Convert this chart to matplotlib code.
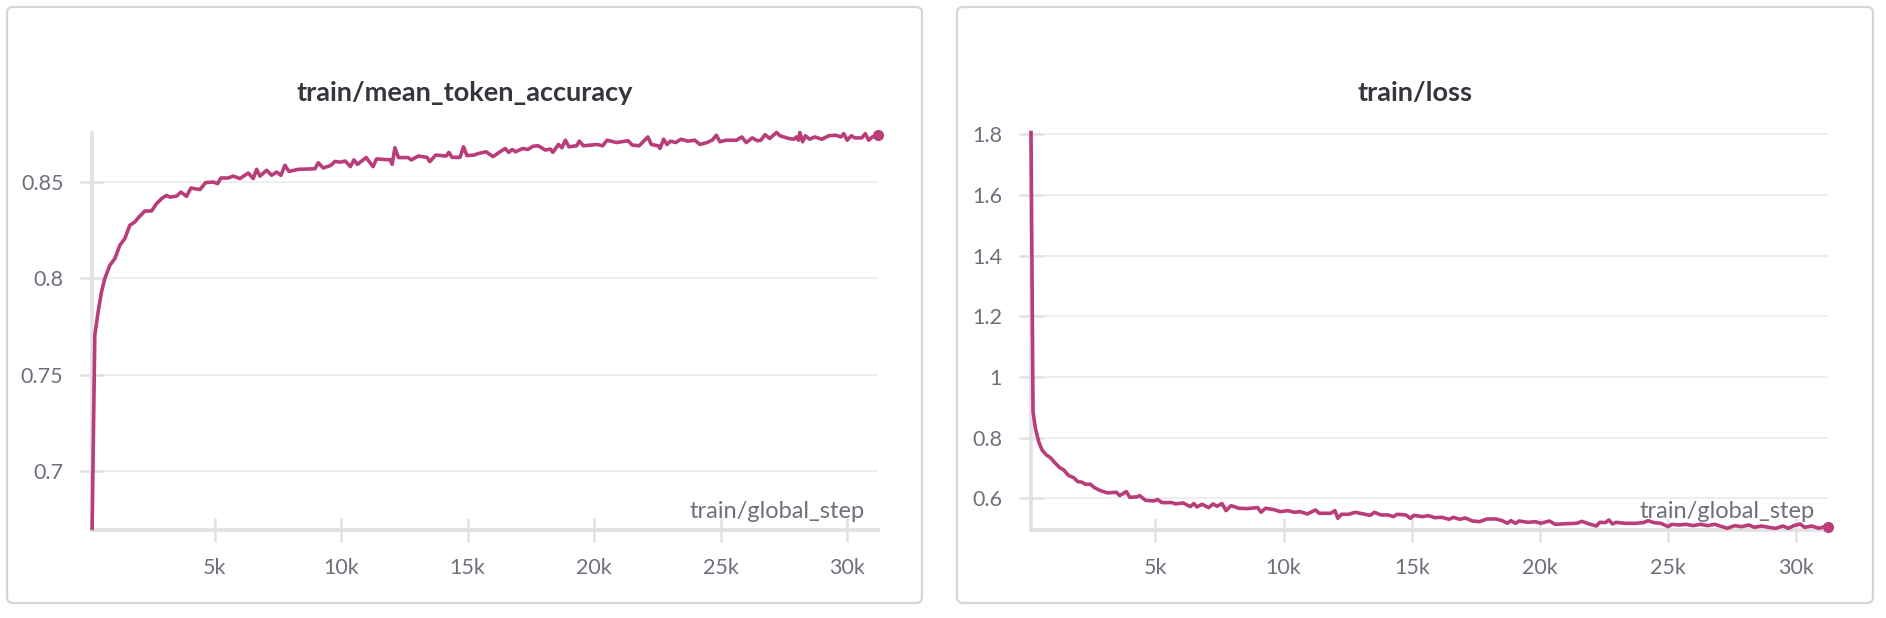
import matplotlib
matplotlib.use('Agg')
import matplotlib.pyplot as plt
from matplotlib.patches import FancyBboxPatch
from matplotlib.transforms import IdentityTransform

plt.rcParams['font.family'] = ['Lato', 'DejaVu Sans']

# train/mean_token_accuracy
acc_step = [143, 249, 380, 514, 645, 843, 1041, 1239, 1437, 1635,
            1833, 1963, 2229, 2494, 2692, 2890, 3088, 3218, 3484, 3654,
            3880, 4050, 4406, 4632, 4933, 5107, 5237, 5527, 5725, 5990,
            6318, 6516, 6651, 6782, 7046, 7244, 7442, 7612, 7771, 7929,
            8297, 8958, 9089, 9287, 9592, 9750, 9949, 10155, 10360, 10500,
            10637, 10982, 11255, 11394, 11944, 12011, 12122, 12261, 12633, 12771,
            13044, 13389, 13500, 13733, 14145, 14256, 14378, 14695, 14834, 14972,
            15245, 15451, 15728, 16001, 16278, 16484, 16622, 16761, 16895, 17173,
            17379, 17585, 17790, 18067, 18273, 18368, 18590, 18729, 18863, 19002,
            19307, 19414, 19580, 20130, 20336, 20514, 20886, 21342, 21508, 21781,
            22125, 22264, 22537, 22608, 22747, 22882, 23020, 23226, 23432, 23709,
            23982, 24188, 24465, 24671, 24837, 24976, 25221, 25633, 25843, 26021,
            26254, 26460, 26599, 26761, 26943, 27216, 27355, 27699, 27905, 28000,
            28083, 28139, 28250, 28361, 28523, 28729, 29006, 29283, 29556, 29762,
            29873, 30011, 30174, 30313, 30590, 30728, 30863, 31001, 31230]
acc_val = [0.6704, 0.7706, 0.7826, 0.793, 0.800, 0.8068, 0.8103, 0.8172, 0.8207, 0.8276,
           0.8293, 0.8314, 0.835, 0.835, 0.8388, 0.8414, 0.8431, 0.8422, 0.8427, 0.8448,
           0.8426, 0.8469, 0.8461, 0.8497, 0.850, 0.8492, 0.8521, 0.8521, 0.8531, 0.8518,
           0.8547, 0.8518, 0.8566, 0.8531, 0.8561, 0.8535, 0.8552, 0.8535, 0.8587, 0.8555,
           0.8566, 0.8569, 0.860, 0.8573, 0.8587, 0.8607, 0.8603, 0.8609, 0.858, 0.8615,
           0.8592, 0.8627, 0.858, 0.862, 0.8615, 0.8592, 0.8678, 0.8627, 0.8627, 0.8615,
           0.8635, 0.8628, 0.8606, 0.864, 0.8635, 0.8654, 0.8628, 0.8628, 0.8683, 0.8637,
           0.864, 0.8649, 0.8657, 0.8632, 0.8657, 0.8674, 0.8654, 0.8669, 0.8657, 0.8674,
           0.8669, 0.8686, 0.8688, 0.8666, 0.8671, 0.8654, 0.8695, 0.8678, 0.8717, 0.8683,
           0.8688, 0.8712, 0.8688, 0.8695, 0.8688, 0.8717, 0.8705, 0.8714, 0.8692, 0.8688,
           0.8734, 0.8695, 0.8688, 0.8674, 0.8722, 0.8695, 0.8712, 0.8705, 0.8722, 0.8712,
           0.8717, 0.8695, 0.8705, 0.8717, 0.8743, 0.8709, 0.8717, 0.8717, 0.8734, 0.8705,
           0.8729, 0.8714, 0.8717, 0.8746, 0.8726, 0.8757, 0.874, 0.8726, 0.8722, 0.8734,
           0.8717, 0.8757, 0.8709, 0.874, 0.8722, 0.8734, 0.8722, 0.874, 0.8743, 0.8734,
           0.8751, 0.8717, 0.874, 0.8729, 0.8729, 0.8751, 0.8717, 0.8734, 0.8743]

# train/loss
loss_step = [150, 229, 320, 450, 580, 749, 905, 1100, 1269, 1425,
             1620, 1815, 1971, 2140, 2270, 2465, 2621, 2855, 3141, 3310,
             3479, 3609, 3869, 3999, 4285, 4389, 4610, 4935, 5091, 5260,
             5650, 5780, 6079, 6365, 6495, 6625, 6820, 7080, 7249, 7405,
             7600, 7756, 7951, 8250, 8575, 8991, 9121, 9290, 9615, 9875,
             10155, 10435, 10645, 10925, 11247, 11387, 11835, 12003, 12115, 12255,
             12535, 12787, 13165, 13375, 13543, 13795, 14075, 14285, 14425, 14775,
             14943, 15083, 15405, 15643, 15895, 16175, 16455, 16623, 16875, 17085,
             17365, 17645, 17925, 18275, 18527, 18723, 18863, 19045, 19185, 19535,
             19815, 20025, 20375, 20585, 21075, 21425, 21635, 21915, 22195, 22335,
             22545, 22685, 22825, 22965, 23315, 23735, 24015, 24225, 24435, 24715,
             24995, 25135, 25415, 25695, 25975, 26255, 26535, 26815, 27095, 27305,
             27585, 27865, 28145, 28355, 28635, 28915, 29195, 29475, 29685, 29895,
             30147, 30315, 30595, 30875, 31085, 31230]
loss_val = [1.806, 0.8857, 0.8308, 0.7868, 0.7593, 0.7428, 0.734, 0.7154, 0.7011, 0.6934,
            0.6747, 0.6681, 0.655, 0.6528, 0.6462, 0.6462, 0.6352, 0.6253, 0.6176, 0.6187,
            0.6198, 0.6088, 0.622, 0.6033, 0.6044, 0.6088, 0.5934, 0.5912, 0.5956, 0.5857,
            0.5857, 0.5813, 0.5846, 0.5725, 0.5824, 0.5714, 0.5802, 0.5692, 0.5813, 0.5736,
            0.5824, 0.5593, 0.5758, 0.567, 0.5659, 0.5692, 0.5538, 0.567, 0.5626, 0.5559,
            0.5592, 0.5537, 0.5559, 0.5482, 0.5614, 0.5504, 0.5504, 0.5592, 0.5339, 0.5471,
            0.5471, 0.5537, 0.5471, 0.5438, 0.5537, 0.5449, 0.5449, 0.5394, 0.5471, 0.5449,
            0.5339, 0.5438, 0.5394, 0.5427, 0.5361, 0.5372, 0.5306, 0.5372, 0.5306, 0.535,
            0.5251, 0.5229, 0.5317, 0.5317, 0.5262, 0.5174, 0.5262, 0.5174, 0.5251, 0.5207,
            0.5229, 0.5174, 0.5251, 0.5141, 0.5163, 0.5174, 0.524, 0.5152, 0.5086, 0.5207,
            0.5196, 0.5284, 0.5152, 0.5207, 0.5174, 0.5174, 0.5196, 0.5262, 0.5196, 0.5174,
            0.5064, 0.5141, 0.5119, 0.5141, 0.5097, 0.5141, 0.5097, 0.5141, 0.5064, 0.5009,
            0.5097, 0.5064, 0.5119, 0.5042, 0.5086, 0.5042, 0.5009, 0.5086, 0.5009, 0.5097,
            0.5152, 0.5042, 0.5086, 0.5009, 0.5064, 0.5042]

step_ticks = [5000, 10000, 15000, 20000, 25000, 30000]
step_labels = ['5k', '10k', '15k', '20k', '25k', '30k']
acc_ticks = [0.7, 0.75, 0.8, 0.85]
acc_labels = ['0.7', '0.75', '0.8', '0.85']
loss_ticks = [0.6, 0.8, 1.0, 1.2, 1.4, 1.6, 1.8]
loss_labels = ['0.6', '0.8', '1', '1.2', '1.4', '1.6', '1.8']

W, H = 1886, 618
LINE = '#b83d79'
AXIS = '#e1e1e4'
TEXT = '#6d707b'

fig = plt.figure(figsize=(W / 100, H / 100), dpi=100)
fig.patch.set_facecolor('white')


def panel(x0, x1, px_left, px_right, steps, vals, yticks, ylabels, ylim, title):
    # card outline, pixel coords (y from bottom)
    card = FancyBboxPatch((x0, 15), x1 - x0, 596,
                          boxstyle='round,pad=0,rounding_size=6',
                          transform=IdentityTransform(), facecolor='white',
                          edgecolor='#d6d6da', linewidth=1.6, zorder=-5)
    fig.add_artist(card)
    fig.text((x0 + x1) / 2 / W, 1 - 93 / H, title, ha='center', va='center',
             fontsize=19.5, fontweight='bold', color='#33363d')

    ax = fig.add_axes([px_left / W, 1 - 529.5 / H, (px_right - px_left) / W, 397 / H])
    ax.set_facecolor('none')
    ax.plot(steps, vals, color=LINE, lw=2.6, clip_on=False, zorder=3,
            solid_joinstyle='round')
    ax.plot(steps[-1], vals[-1], 'o', ms=7, color=LINE, clip_on=False, zorder=4)

    ax.set_xlim(150, 31230)
    ax.set_ylim(*ylim)
    ax.set_xticks(step_ticks)
    ax.set_xticklabels(step_labels)
    ax.set_yticks(yticks)
    ax.set_yticklabels(ylabels)

    for s in ['top', 'right']:
        ax.spines[s].set_visible(False)
    for s in ['left', 'bottom']:
        ax.spines[s].set_color(AXIS)
        ax.spines[s].set_linewidth(2.6)
    ax.tick_params(direction='inout', length=17, width=1.8, color=AXIS,
                   labelcolor=TEXT, labelsize=15.5, pad=12.3)
    ax.yaxis.grid(True, color='#ebebed', lw=1.2)
    ax.set_axisbelow(True)

    ax.annotate('train/global_step', xy=(1, 0), xycoords='axes fraction',
                xytext=(-9.4, 8.3), textcoords='offset points',
                ha='right', va='baseline', fontsize=17, color=TEXT)
    return ax


panel(7, 922, 92.3, 878, acc_step, acc_val, acc_ticks, acc_labels,
      (0.6698, 0.8757), 'train/mean_token_accuracy')
panel(957, 1873, 1031, 1828, loss_step, loss_val, loss_ticks, loss_labels,
      (0.497, 1.806), 'train/loss')

fig.savefig('out.png', dpi=100)
